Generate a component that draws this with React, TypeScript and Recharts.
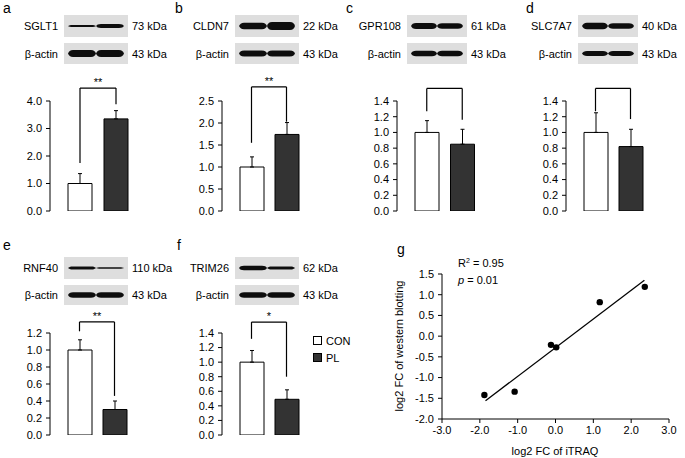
import React from 'react'
import { BarChart, Bar, Cell, XAxis, YAxis, ErrorBar, ReferenceLine, ScatterChart, Scatter } from 'recharts'

const FONT = '"Liberation Sans", Arial, sans-serif'

const groups = ['CON', 'PL']

// relative protein level (mean, upper SD)
const sglt1Means = [1.0, 3.35]
const sglt1Errors = [0.36, 0.3]
const cldn7Means = [1.0, 1.74]
const cldn7Errors = [0.23, 0.27]
const gpr108Means = [1.0, 0.85]
const gpr108Errors = [0.15, 0.19]
const slc7a7Means = [1.0, 0.82]
const slc7a7Errors = [0.25, 0.22]
const rnf40Means = [1.0, 0.3]
const rnf40Errors = [0.12, 0.1]
const trim26Means = [1.0, 0.49]
const trim26Errors = [0.16, 0.13]

// significance brackets: [top, left leg end, right leg end]
const sglt1Bracket = [4.47, 1.75, 3.88]
const cldn7Bracket = [2.82, 1.55, 2.03]
const gpr108Bracket = [1.56, 1.27, 1.16]
const slc7a7Bracket = [1.56, 1.27, 1.17]
const rnf40Bracket = [1.33, 1.22, 0.46]
const trim26Bracket = [1.55, 1.32, 0.8]

const ticks4 = [0, 1, 2, 3, 4]
const ticks25 = [0, 0.5, 1, 1.5, 2, 2.5]
const ticks14 = [0, 0.2, 0.4, 0.6, 0.8, 1, 1.2, 1.4]
const ticks12 = [0, 0.2, 0.4, 0.6, 0.8, 1, 1.2]

// panel g: log2 fold change
const itraqFC = [-1.88, -1.08, -0.12, 0.02, 1.17, 2.36]
const westernFC = [-1.42, -1.34, -0.21, -0.27, 0.82, 1.19]
const fitX = [-1.85, 2.35]
const fitY = [-1.56, 1.35]
const gXTicks = [-3, -2, -1, 0, 1, 2, 3]
const gYTicks = [-2, -1.5, -1, -0.5, 0, 0.5, 1, 1.5]

const axisTick = { fill: '#000', fontSize: 11, fontFamily: FONT }

interface BarPanelProps {
    axisX: number
    endX: number
    topY: number
    zeroY: number
    yMax: number
    ticks: number[]
    means: number[]
    errors: number[]
    bracket: number[]
    stars?: string
}

const TOP = 40

function BarPanel({ axisX, endX, topY, zeroY, yMax, ticks, means, errors, bracket, stars }: BarPanelProps) {
    const data = groups.map((g, i) => ({ name: g, value: means[i], err: [0, errors[i]] }))
    const plotH = zeroY - topY
    const width = endX - axisX + 64
    const height = plotH + TOP + 9
    return (
        <div style={{ position: 'absolute', left: axisX - 50, top: topY - TOP }}>
            <BarChart width={width} height={height} data={data} margin={{ top: TOP, right: 14, left: 0, bottom: 4 }}>
                <XAxis dataKey="name" hide padding={{ left: 12, right: 12 }} />
                <XAxis
                    xAxisId="edge"
                    type="number"
                    domain={[0, 1]}
                    ticks={[0, 1]}
                    tickFormatter={() => ''}
                    tickSize={4}
                    height={5}
                    stroke="#000"
                />
                <YAxis
                    width={50}
                    domain={[0, yMax]}
                    ticks={ticks}
                    allowDataOverflow
                    interval={0}
                    tickFormatter={(v: number) => v.toFixed(1)}
                    tickSize={4}
                    tickMargin={4}
                    stroke="#000"
                    tick={axisTick}
                />
                <Bar dataKey="value" barSize={24} stroke="#000" strokeWidth={1} isAnimationActive={false}>
                    {data.map((d, i) => (
                        <Cell key={d.name} fill={i === 0 ? '#ffffff' : '#333333'} />
                    ))}
                    <ErrorBar dataKey="err" width={2} stroke="#000" strokeWidth={1} direction="y" isAnimationActive={false} />
                </Bar>
                <ReferenceLine
                    segment={[{ x: 'CON', y: bracket[1] }, { x: 'CON', y: bracket[0] }]}
                    stroke="#000"
                    strokeWidth={1.2}
                    ifOverflow="visible"
                />
                <ReferenceLine
                    segment={[{ x: 'CON', y: bracket[0] }, { x: 'PL', y: bracket[0] }]}
                    stroke="#000"
                    strokeWidth={1.2}
                    ifOverflow="visible"
                    label={stars ? { value: stars, position: 'top', fill: '#000', fontSize: 11, fontFamily: FONT, offset: 2 } : undefined}
                />
                <ReferenceLine
                    segment={[{ x: 'PL', y: bracket[2] }, { x: 'PL', y: bracket[0] }]}
                    stroke="#000"
                    strokeWidth={1.2}
                    ifOverflow="visible"
                />
            </BarChart>
        </div>
    )
}

function Blot({ x, y, w, h, bands, label, kda }: { x: number; y: number; w: number; h: number; bands: number[]; label: string; kda: string }) {
    const cy = y + h / 2
    const half = w / 2
    const lanes = [
        [x + 4, x + half],
        [x + half, x + w - 4],
    ]
    return (
        <g>
            <text x={x - 6} y={cy + 4} textAnchor="end" fontSize={11} fontFamily={FONT} fill="#000">{label}</text>
            <rect x={x} y={y} width={w} height={h} fill="#dedede" />
            {lanes.map(([x1, x2], i) => {
                const t = bands[i] / 2
                const e = 5
                const d = `M${x1},${cy} C${x1 + 1},${cy - t * 0.6} ${x1 + 2},${cy - t} ${x1 + e},${cy - t} L${x2 - e},${cy - t} C${x2 - 2},${cy - t} ${x2 - 1},${cy - t * 0.6} ${x2},${cy} C${x2 - 1},${cy + t * 0.6} ${x2 - 2},${cy + t} ${x2 - e},${cy + t} L${x1 + e},${cy + t} C${x1 + 2},${cy + t} ${x1 + 1},${cy + t * 0.6} ${x1},${cy} Z`
                return <path key={i} d={d} fill="#111" filter="url(#soft)" />
            })}
            <text x={x + w + 4} y={cy + 4} fontSize={11} fontFamily={FONT} fill="#000">{kda}</text>
        </g>
    )
}

function ScatterPanel() {
    const points = itraqFC.map((v, i) => ({ x: v, y: westernFC[i] }))
    const fit = fitX.map((v, i) => ({ x: v, y: fitY[i] }))
    return (
        <div style={{ position: 'absolute', left: 382, top: 264 }}>
            <ScatterChart width={303} height={195} margin={{ top: 10, right: 16, left: 0, bottom: 20 }}>
                <XAxis
                    type="number"
                    dataKey="x"
                    domain={[-3, 3]}
                    ticks={gXTicks}
                    interval={0}
                    tickFormatter={(v: number) => v.toFixed(1)}
                    tickSize={4}
                    tickMargin={3}
                    height={20}
                    stroke="#000"
                    tick={axisTick}
                />
                <YAxis
                    type="number"
                    dataKey="y"
                    width={60}
                    domain={[-2, 1.5]}
                    ticks={gYTicks}
                    interval={0}
                    allowDataOverflow
                    tickFormatter={(v: number) => v.toFixed(1)}
                    tickSize={4}
                    tickMargin={4}
                    stroke="#000"
                    tick={axisTick}
                />
                <Scatter
                    data={fit}
                    line={{ stroke: '#000', strokeWidth: 1.3 }}
                    shape={() => <g />}
                    isAnimationActive={false}
                />
                <Scatter
                    data={points}
                    shape={(p: any) => <circle cx={p.cx} cy={p.cy} r={3.2} fill="#000" />}
                    isAnimationActive={false}
                />
            </ScatterChart>
        </div>
    )
}

export default function App() {
    const letter = { fontSize: 14, fontFamily: FONT, fill: '#000' }
    return (
        <div style={{ position: 'fixed', left: 0, top: 0, width: 685, height: 458, background: '#fff', overflow: 'hidden' }}>
            <BarPanel axisX={50} endX={146} topY={101} zeroY={211} yMax={4} ticks={ticks4} means={sglt1Means} errors={sglt1Errors} bracket={sglt1Bracket} stars="**" />
            <BarPanel axisX={222} endX={316} topY={101} zeroY={211} yMax={2.5} ticks={ticks25} means={cldn7Means} errors={cldn7Errors} bracket={cldn7Bracket} stars="**" />
            <BarPanel axisX={397} endX={492} topY={101} zeroY={211} yMax={1.4} ticks={ticks14} means={gpr108Means} errors={gpr108Errors} bracket={gpr108Bracket} />
            <BarPanel axisX={566} endX={660} topY={101} zeroY={211} yMax={1.4} ticks={ticks14} means={slc7a7Means} errors={slc7a7Errors} bracket={slc7a7Bracket} />
            <BarPanel axisX={50} endX={144} topY={333} zeroY={435} yMax={1.2} ticks={ticks12} means={rnf40Means} errors={rnf40Errors} bracket={rnf40Bracket} stars="**" />
            <BarPanel axisX={222} endX={316} topY={333} zeroY={435} yMax={1.4} ticks={ticks14} means={trim26Means} errors={trim26Errors} bracket={trim26Bracket} stars="*" />
            <ScatterPanel />

            <svg width={685} height={458} style={{ position: 'absolute', left: 0, top: 0, pointerEvents: 'none' }}>
                <defs>
                    <filter id="soft" x="-10%" y="-50%" width="120%" height="200%">
                        <feGaussianBlur stdDeviation="0.5" />
                    </filter>
                </defs>
                <text x={3} y={13} {...letter}>a</text>
                <text x={175} y={13} {...letter}>b</text>
                <text x={346} y={13} {...letter}>c</text>
                <text x={526} y={13} {...letter}>d</text>
                <text x={3} y={250} {...letter}>e</text>
                <text x={177} y={250} {...letter}>f</text>
                <text x={397} y={254} {...letter}>g</text>

                <Blot x={64} y={15} w={64} h={22} bands={[2.2, 4]} label="SGLT1" kda="73 kDa" />
                <Blot x={64} y={43} w={64} h={21} bands={[7, 7]} label="β-actin" kda="43 kDa" />
                <Blot x={235} y={15} w={64} h={22} bands={[6.5, 8]} label="CLDN7" kda="22 kDa" />
                <Blot x={235} y={43} w={64} h={21} bands={[6, 6]} label="β-actin" kda="43 kDa" />
                <Blot x={407} y={15} w={60} h={22} bands={[6, 5.5]} label="GPR108" kda="61 kDa" />
                <Blot x={407} y={43} w={60} h={21} bands={[5.5, 5.5]} label="β-actin" kda="43 kDa" />
                <Blot x={578} y={15} w={60} h={22} bands={[6.5, 5.5]} label="SLC7A7" kda="40 kDa" />
                <Blot x={578} y={43} w={60} h={21} bands={[5, 5]} label="β-actin" kda="43 kDa" />
                <Blot x={64} y={257} w={64} h={22} bands={[3, 1.5]} label="RNF40" kda="110 kDa" />
                <Blot x={64} y={285} w={64} h={20} bands={[5.5, 5.5]} label="β-actin" kda="43 kDa" />
                <Blot x={235} y={257} w={64} h={22} bands={[4.5, 3]} label="TRIM26" kda="62 kDa" />
                <Blot x={235} y={285} w={64} h={20} bands={[5.5, 5.5]} label="β-actin" kda="43 kDa" />

                <rect x={313.5} y={336.5} width={8} height={8} fill="#fff" stroke="#000" />
                <text x={326} y={345} fontSize={11} fontFamily={FONT} fill="#000">CON</text>
                <rect x={313.5} y={353.5} width={8} height={8} fill="#333" stroke="#000" />
                <text x={326} y={362} fontSize={11} fontFamily={FONT} fill="#000">PL</text>

                <text x={458} y={267} fontSize={11} fontFamily={FONT} fill="#000">
                    R<tspan fontSize={7} dy={-4}>2</tspan><tspan dy={4}> = 0.95</tspan>
                </text>
                <text x={458} y={284} fontSize={11} fontFamily={FONT} fill="#000">
                    <tspan fontStyle="italic">p</tspan> = 0.01
                </text>
                <text x={555} y={455} textAnchor="middle" fontSize={11} fontFamily={FONT} fill="#000">log2 FC of iTRAQ</text>
                <text x={403} y={346} textAnchor="middle" fontSize={11} fontFamily={FONT} fill="#000" transform="rotate(-90 403 346)">log2 FC of western blotting</text>
            </svg>
        </div>
    )
}
